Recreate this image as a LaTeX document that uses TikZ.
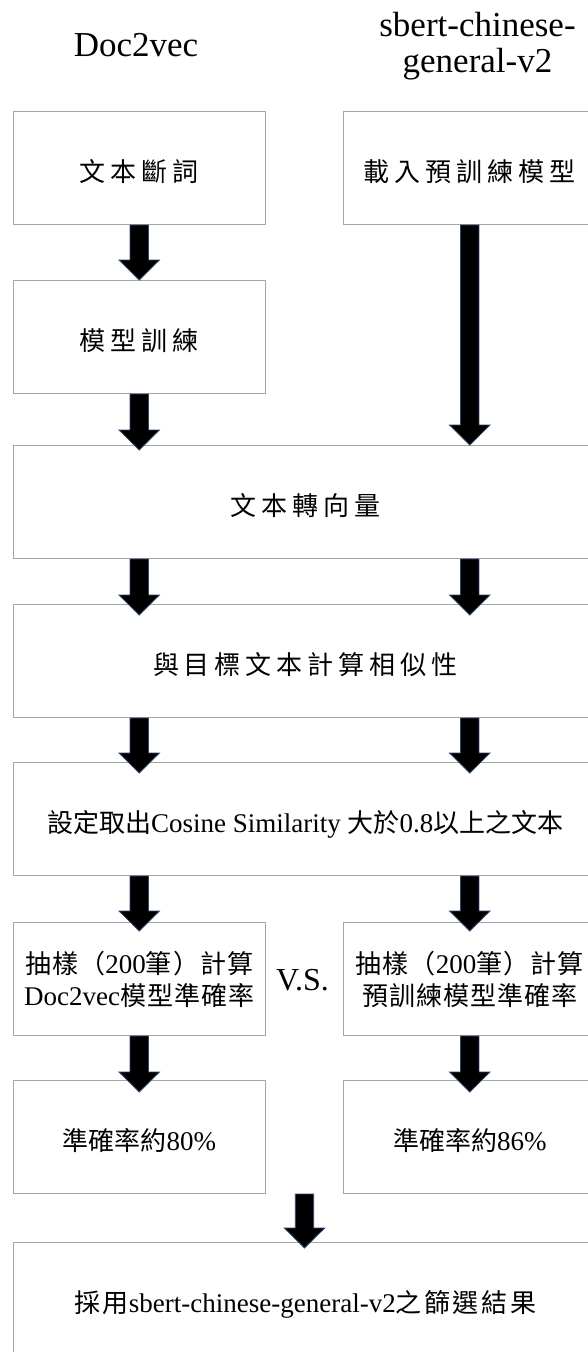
\documentclass[tikz,border=0pt]{standalone}
\usepackage{fontspec}
\setmainfont{Liberation Serif}
\newfontfamily\cjk{Noto Sans CJK TC}
\usetikzlibrary{calc}
\definecolor{boxgray}{RGB}{165,165,165}
\definecolor{arrowblue}{RGB}{47,70,110}
\newcommand\C[2][19]{{\cjk\fontsize{26}{32}\selectfont\addfontfeature{LetterSpace=#1}#2}}
% block arrow from #1 down to #2, tip entering #3 pt below the target point
\newcommand\barrow[3]{\path[arr] let \p1=(#1), \p2=(#2) in
  (\x1-9.2pt,\y1) -- (\x1+9.2pt,\y1) -- (\x1+9.2pt,\y2-#3pt+20pt) -- (\x1+20.2pt,\y2-#3pt+20pt)
  -- (\x1,\y2-#3pt) -- (\x1-20.2pt,\y2-#3pt+20pt) -- (\x1-9.2pt,\y2-#3pt+20pt) -- cycle;}
\begin{document}
\begin{tikzpicture}[x=1pt,y=-1pt,
  box/.style={draw=boxgray, line width=1pt, inner sep=0pt, anchor=north west,
    minimum height=113pt, font=\fontsize{27}{32}\selectfont, align=center},
  oneline/.style={text height=30pt, text depth=2.5pt},
  narrow/.style={box, minimum width=252.5pt},
  wide/.style={box, minimum width=584.5pt},
  title/.style={font=\fontsize{35}{36}\selectfont, align=center, inner sep=0pt},
  arr/.style={fill=black, draw=arrowblue, line width=0.8pt, line join=miter}]
\useasboundingbox (0,0) rectangle (588,1352);
\clip (0,0) rectangle (588,1352);
\fill[white] (0,0) rectangle (588,1352);

\node[title, anchor=base] (t1) at (136,56.7) {Doc2vec};
\node[title] (t2) at (477.5,46) {sbert-chinese-\\general-v2};

\node[narrow, oneline] (b1L) at (12.5,111) {\C{文本斷詞}};
\node[narrow, oneline] (b1R) at (343,111) {\C{載入預訓練模型}};
\node[narrow, oneline] (b2L) at (12.5,280) {\C{模型訓練}};
\node[wide, oneline] (b3) at (12.5,445) {\C{文本轉向量}};
\node[wide, oneline] (b4) at (12.5,604) {\C{與目標文本計算相似性}};
\node[wide, oneline] (b5) at (12.5,762) {\C[0]{設定取出}Cosine Similarity \C[0]{大於}0.8\C[0]{以上之文本}};
\node[narrow] (b6L) at (12.5,922) {\C[4]{抽樣（}200\C[4]{筆）計算}\\Doc2vec\C[4]{模型準確率}};
\node[narrow] (b6R) at (343,922) {\C[4]{抽樣（}200\C[4]{筆）計算}\\\C[4]{預訓練模型準確率}};
\node[font=\fontsize{32}{36}\selectfont, inner sep=0pt] (vs) at (302.5,980) {V.S.};
\node[narrow, oneline] (b7L) at (12.5,1080) {\C[0]{準確率約}80\%};
\node[narrow, oneline] (b7R) at (343,1080) {\C[0]{準確率約}86\%};
\node[wide, oneline] (b8) at (12.5,1242) {\C[10]{採用}sbert-chinese-general-v2\C[10]{之篩選結果}};
\coordinate (m7) at ($(b7L.south)!0.5!(b7R.south)$);

\barrow{b1L.south}{b2L.north}{0}
\barrow{b2L.south}{b3.north}{5}
\barrow{b1R.south}{b3.north}{0}
\barrow{b3.south -| b1L.south}{b4.north}{11}
\barrow{b3.south -| b1R.south}{b4.north}{11}
\barrow{b4.south -| b1L.south}{b5.north}{11}
\barrow{b4.south -| b1R.south}{b5.north}{11}
\barrow{b5.south -| b6L.north}{b6L.north}{9}
\barrow{b5.south -| b6R.north}{b6R.north}{9}
\barrow{b6L.south}{b7L.north}{12}
\barrow{b6R.south}{b7R.north}{12}
\barrow{m7}{b8.north}{6}
\end{tikzpicture}
\end{document}
